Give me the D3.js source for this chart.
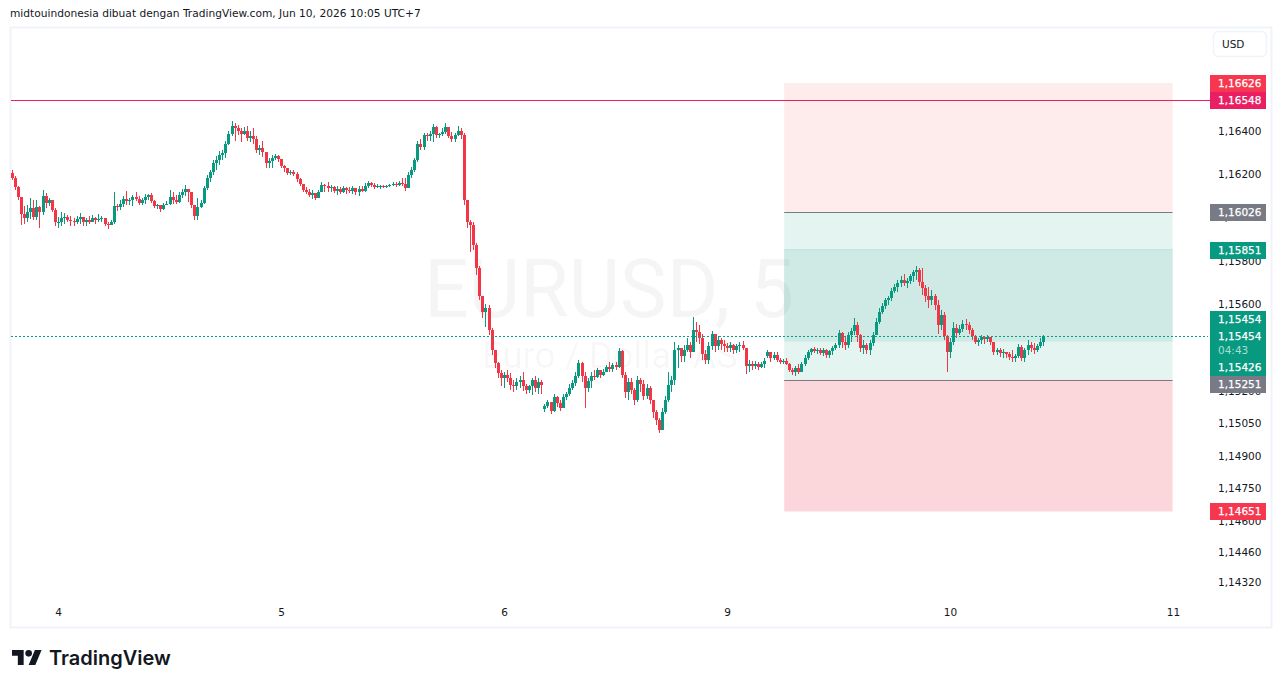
<!DOCTYPE html>
<html>
<head>
<meta charset="utf-8">
<script src="https://cdn.jsdelivr.net/npm/d3@7"></script>
<style>
  html, body { margin: 0; padding: 0; background: #fff; overflow: hidden; }
  text { font-family: "DejaVu Sans", sans-serif; }
</style>
</head>
<body>
<script>
// price values are points above basePrice, one candle every 20 minutes
const basePrice = 1.14;
const barsPerDay = 72;
const firstBarDay = -0.2125;

const opens = [2205,2183,2141,2095,2016,1998,2026,2044,2002,2049,2026,2100,
2067,2081,2035,1979,1979,1998,2002,1989,1984,1979,1993,2002,1979,1989,1979,1998,1989,1993,1998,1970,1966,1979,
2053,2049,2062,2086,2076,2081,2095,2086,2067,2081,2095,2104,2076,2053,2058,2039,2058,2062,2095,2081,2072,2104,2118,2132,2118,2058,2007,2049,2067,2137,2183,2210,2252,2266,2289,2298,2344,2390,2427,2418,2404,2390,2404,2372,2381,2367,2312,2321,2303,2252,2261,2275,2284,2270,2238,2229,2206,2210,2201,2178,2155,2127,2118,2104,2113,2090,2118,2150,2146,2136,2141,2123,2132,2118,2136,2127,2123,2136,2118,2132,2123,2146,2160,2150,2141,2146,2146,2141,2146,2150,2155,2150,2160,2155,2136,2196,2220,2266,2344,2330,2386,2377,2390,2423,2386,2390,2400,2423,2381,2363,2386,2404,2386,
2081,1979,1965,1873,1767,1637,1564,1582,1481,1388,1328,1282,1259,1273,1259,1226,1222,1240,1250,1222,1203,1222,1250,1213,1240,
1115,1129,1148,1106,1171,1143,1120,1171,1185,1212,1236,1268,1328,1268,1212,1245,1268,1263,1296,1273,1286,1309,1300,1319,1309,1383,1273,1194,1240,1203,1157,1249,1231,1176,1212,1157,1102,1065,1019,1102,1157,1226,1250,1388,1397,1360,1388,1411,1379,1480,1471,1443,1369,1342,1406,1462,1406,1434,1416,1406,1397,1411,1388,1406,1411,1397,1314,1323,1314,1323,1309,1323,
1360,1379,1351,1365,1342,1333,1337,1323,1296,1286,1305,1286,1323,1351,1379,1393,1383,1388,1374,1388,1365,1383,1397,1411,1467,1425,1411,1457,1476,1503,1457,1397,1411,1388,1420,1457,1517,1564,1591,1619,1628,1661,1679,1698,1711,1698,1707,1730,1748,1758,1702,1674,1637,1619,1637,1596,1503,1550,1453,1379,1425,1490,1467,1485,1508,1503,1480,1453,1425,1434,1448,1439,1448,1425,1379,1388,1374,1379,1369,1356,1351,1360,1402,1351,1388,1411,1397,1388,1406,1425];

const highs = [2220,2192,2146,2090,2053,2058,2090,2081,2081,2053,2127,
2113,2090,2081,2044,2002,2026,2021,2012,2007,1998,2007,2021,2002,1998,2007,2012,2002,2016,2007,1998,1979,1989,
2118,2062,2081,2100,2123,2090,2104,2118,2100,2090,2109,2109,2113,2081,2062,2058,2067,2076,2127,2118,2104,2118,2132,2150,2127,2118,2058,2090,2081,2146,2196,2220,2266,2284,2307,2312,2358,2404,2451,2441,2432,2414,2423,2427,2404,2418,2381,2335,2354,2303,2275,2289,2294,2289,2266,2243,2229,2220,2220,2210,2183,2155,2141,2132,2127,2113,2127,2164,2155,2164,2150,2146,2146,2141,2146,2141,2141,2146,2136,2146,2146,2160,2169,2164,2160,2155,2150,2150,2150,2155,2164,2164,2169,2183,2183,2210,2234,2275,2358,2367,2395,2395,2404,2437,2427,2395,2414,2441,2418,2400,2395,2427,2414,
2395,2058,1989,1979,1882,1776,1628,1600,1596,1490,1388,1333,1296,1287,1296,1282,1249,1259,1268,1287,1231,1226,1259,1268,1259,1250,
1139,1157,1143,1185,1176,1157,1185,1194,1231,1249,1286,1342,1333,1286,1259,1286,1296,1305,1296,1300,1319,1333,1328,1333,1397,1388,1286,1259,1259,1212,1268,1259,1249,1231,1222,1157,1111,1074,1120,1176,1286,1268,1425,1411,1392,1411,1443,1425,1540,1517,1503,1462,1388,1425,1476,1462,1452,1443,1434,1420,1425,1416,1416,1425,1429,1388,1342,1337,1337,1333,1333,1351,
1388,1379,1379,1379,1351,1347,1351,1328,1305,1314,1323,1333,1365,1388,1397,1402,1397,1397,1397,1393,1388,1406,1420,1480,1471,1452,1471,1490,1536,1517,1462,1434,1420,1434,1471,1536,1582,1605,1628,1637,1674,1693,1711,1730,1739,1721,1739,1758,1776,1767,1767,1688,1679,1665,1646,1619,1573,1563,1457,1443,1517,1508,1503,1526,1531,1517,1490,1457,1443,1457,1452,1457,1448,1425,1397,1397,1393,1379,1379,1388,1369,1416,1411,1397,1434,1425,1420,1416,1443,1458];

const lows = [2173,2127,2081,1966,1970,1979,1993,1989,1989,1952,2012,
2044,2053,2026,1961,1952,1961,1970,1979,1961,1961,1970,1970,1961,1961,1970,1979,1970,1979,1979,1961,1947,1966,
1970,2030,2035,2049,2058,2058,2053,2076,2058,2058,2062,2081,2067,2044,2039,2026,2035,2058,2058,2062,2062,2067,2090,2100,2072,2044,1989,1989,2044,2062,2127,2164,2196,2220,2243,2266,2275,2335,2381,2358,2386,2349,2386,2358,2349,2344,2298,2289,2280,2229,2229,2229,2266,2256,2229,2210,2196,2196,2192,2164,2146,2118,2109,2095,2086,2081,2090,2123,2118,2118,2118,2113,2104,2109,2113,2109,2113,2109,2104,2100,2118,2118,2136,2141,2132,2136,2132,2136,2136,2141,2146,2141,2146,2146,2123,2136,2183,2210,2257,2312,2316,2358,2358,2349,2372,2372,2381,2390,2372,2349,2349,2377,2367,
2058,1952,1841,1850,1734,1619,1536,1494,1457,1365,1305,1259,1222,1213,1240,1203,1194,1203,1213,1199,1185,1189,1180,1194,1185,1185,
1102,1120,1092,1102,1125,1106,1129,1157,1176,1203,1222,1259,1240,1120,1194,1212,1249,1259,1259,1268,1286,1286,1286,1296,1305,1259,1166,1157,1185,1134,1148,1194,1157,1162,1139,1074,1041,1005,1037,1092,1148,1194,1226,1305,1333,1333,1379,1351,1379,1425,1416,1342,1323,1323,1388,1379,1388,1388,1379,1379,1379,1369,1374,1379,1388,1277,1286,1296,1300,1296,1305,1305,
1351,1333,1342,1333,1323,1323,1319,1286,1273,1268,1277,1286,1314,1342,1365,1374,1369,1365,1360,1351,1351,1365,1388,1397,1397,1388,1397,1425,1457,1425,1379,1369,1369,1365,1406,1457,1508,1554,1577,1596,1614,1651,1656,1679,1684,1674,1693,1702,1711,1684,1642,1610,1582,1596,1573,1462,1480,1434,1286,1351,1411,1443,1457,1471,1480,1462,1434,1416,1406,1416,1416,1425,1411,1365,1365,1356,1351,1351,1342,1333,1333,1351,1337,1333,1365,1379,1369,1379,1397,1406];

const closes = [2183,2141,2095,2016,1998,2026,2044,2002,2049,2026,2100,
2067,2081,2035,1979,1979,1998,2002,1989,1984,1979,1993,2002,1979,1989,1979,1998,1989,1993,1998,1970,1966,1979,
2053,2049,2062,2086,2076,2081,2095,2086,2067,2081,2095,2104,2076,2053,2058,2039,2058,2062,2095,2081,2072,2104,2118,2132,2118,2058,2007,2049,2067,2137,2183,2210,2252,2266,2289,2298,2344,2390,2427,2418,2404,2390,2404,2372,2381,2367,2312,2321,2303,2252,2261,2275,2284,2270,2238,2229,2206,2210,2201,2178,2155,2127,2118,2104,2113,2090,2118,2150,2146,2136,2141,2123,2132,2118,2136,2127,2123,2136,2118,2132,2123,2146,2160,2150,2141,2146,2146,2141,2146,2150,2155,2150,2160,2155,2136,2196,2220,2266,2344,2330,2386,2377,2390,2423,2386,2390,2400,2423,2381,2363,2386,2404,2386,
2081,1979,1965,1873,1767,1637,1564,1582,1481,1388,1328,1282,1259,1273,1259,1226,1222,1240,1250,1222,1203,1222,1250,1213,1240,1226,
1129,1148,1106,1171,1143,1120,1171,1185,1212,1236,1268,1328,1268,1212,1245,1268,1263,1296,1273,1286,1309,1300,1319,1309,1383,1273,1194,1240,1203,1157,1249,1231,1176,1212,1157,1102,1065,1019,1102,1157,1226,1250,1388,1397,1360,1388,1411,1379,1480,1471,1443,1369,1342,1406,1462,1406,1434,1416,1406,1397,1411,1388,1406,1411,1397,1314,1323,1314,1323,1309,1323,1337,
1379,1351,1365,1342,1333,1337,1323,1296,1286,1305,1286,1323,1351,1379,1393,1383,1388,1374,1388,1365,1383,1397,1411,1467,1425,1411,1457,1476,1503,1457,1397,1411,1388,1420,1457,1517,1564,1591,1619,1628,1661,1679,1698,1711,1698,1707,1730,1748,1758,1702,1674,1637,1619,1637,1596,1503,1550,1453,1379,1425,1490,1467,1485,1508,1503,1480,1453,1425,1434,1448,1439,1448,1425,1379,1388,1374,1379,1369,1356,1351,1360,1402,1351,1388,1411,1397,1388,1406,1425,1454];

const dayPositions = [0, 1, 2, 3, 4, 5];
const dayLabels = ["4", "5", "6", "9", "10", "11"];
const priceTicks = [1.164, 1.162, 1.16, 1.158, 1.156, 1.152, 1.1505, 1.149, 1.1475, 1.146, 1.1446, 1.1432];

const lastPrice = 1.15454;
const alertPrice = 1.16548;
const stopTop = 1.16626;
const entryTop = 1.16026;
const entryBottom = 1.15251;
const stopBottom = 1.14645;
const innerTop = 1.15851;
const innerBottom = 1.15426;
const zoneStartDay = 3.2565;
const zoneEndDay = 4.998;

const labelTexts = ["1,16626", "1,16548", "1,16026", "1,15851", "1,15454", "1,15454", "04:43", "1,15426", "1,15251", "1,14651"];

const width = 1281, height = 688;
const red = "#f23645", green = "#089981", grey = "#787b86", pink = "#e91e63", ink = "#131722";

const x = d3.scaleLinear().domain([0, 5]).range([58, 1173]);
const y = d3.scaleLog().domain([1.164, 1.1432]).range([131.5, 582.5]);
const price = n => basePrice + n / 1e5;

const svg = d3.select("body").append("svg")
    .attr("width", width)
    .attr("height", height)
    .style("display", "block");

svg.append("text")
    .attr("x", 10).attr("y", 17)
    .attr("font-size", 10.65).attr("fill", ink)
    .text("midtouindonesia dibuat dengan TradingView.com, Jun 10, 2026 10:05 UTC+7");

// chart frame
svg.append("rect")
    .attr("x", 10.5).attr("y", 27.5).attr("width", 1261).attr("height", 600)
    .attr("fill", "#fff").attr("stroke", "#f0f3fa").attr("stroke-width", 2);

// position zones
const zones = [
    { top: stopTop, bottom: entryTop, fill: "#feecec" },
    { top: entryTop, bottom: entryBottom, fill: "#e4f4f1" },
    { top: innerTop, bottom: innerBottom, fill: "#cfeae4" },
    { top: entryBottom, bottom: stopBottom, fill: "#fbd7db" }
];
svg.append("g").selectAll("rect").data(zones).join("rect")
    .attr("x", x(zoneStartDay))
    .attr("width", x(zoneEndDay) - x(zoneStartDay))
    .attr("y", d => y(d.top))
    .attr("height", d => y(d.bottom) - y(d.top))
    .attr("fill", d => d.fill);

svg.append("line")
    .attr("x1", x(zoneStartDay)).attr("x2", x(zoneEndDay))
    .attr("y1", y(innerTop)).attr("y2", y(innerTop))
    .attr("stroke", "#b9e2d9");

svg.append("g").selectAll("line").data([entryTop, entryBottom]).join("line")
    .attr("x1", x(zoneStartDay)).attr("x2", x(zoneEndDay))
    .attr("y1", d => Math.round(y(d)) + 0.5).attr("y2", d => Math.round(y(d)) + 0.5)
    .attr("stroke", grey);

// watermark, shows through the zones
svg.append("text")
    .attr("x", 424).attr("y", 317)
    .attr("font-size", 81).attr("fill", "#000").attr("fill-opacity", 0.04)
    .attr("textLength", 370).attr("lengthAdjust", "spacingAndGlyphs")
    .style("font-family", "Roboto")
    .text("EURUSD, 5");
svg.append("text")
    .attr("x", 482).attr("y", 368)
    .attr("font-size", 37).attr("fill", "#000").attr("fill-opacity", 0.04)
    .attr("textLength", 256).attr("lengthAdjust", "spacingAndGlyphs")
    .style("font-family", "Roboto")
    .text("Euro / Dollar AS");

// candles
const candles = closes.map((c, i) => ({
    day: firstBarDay + i / barsPerDay,
    open: opens[i], high: highs[i], low: lows[i], close: c
}));

const candleGroup = svg.append("g").attr("class", "candles").attr("shape-rendering", "crispEdges");
candleGroup.selectAll("line").data(candles).join("line")
    .attr("x1", d => Math.round(x(d.day)) + 1)
    .attr("x2", d => Math.round(x(d.day)) + 1)
    .attr("y1", d => y(price(d.high)))
    .attr("y2", d => y(price(d.low)))
    .attr("stroke", d => d.close >= d.open ? green : red);
candleGroup.selectAll("rect").data(candles).join("rect")
    .attr("x", d => Math.round(x(d.day)))
    .attr("width", 3)
    .attr("y", d => y(price(Math.max(d.open, d.close))))
    .attr("height", d => Math.max(1, y(price(Math.min(d.open, d.close))) - y(price(Math.max(d.open, d.close)))))
    .attr("fill", d => d.close >= d.open ? green : red);

// horizontal price lines
svg.append("line")
    .attr("x1", 11).attr("x2", 1210)
    .attr("y1", Math.round(y(alertPrice)) + 0.5).attr("y2", Math.round(y(alertPrice)) + 0.5)
    .attr("stroke", pink);
svg.append("line")
    .attr("x1", 11).attr("x2", 1208)
    .attr("y1", Math.round(y(lastPrice)) + 0.5).attr("y2", Math.round(y(lastPrice)) + 0.5)
    .attr("stroke", "#00a08a").attr("stroke-dasharray", "2 2")
    .attr("shape-rendering", "crispEdges");

// axes
const yAxis = svg.append("g")
    .attr("transform", "translate(1218,0)")
    .call(d3.axisRight(y).tickValues(priceTicks).tickSize(0).tickPadding(0)
        .tickFormat(d => d3.format(".5f")(d).replace(".", ",")));
yAxis.select(".domain").remove();
yAxis.selectAll("text").attr("font-size", 10.5).attr("fill", ink).style("font-family", "DejaVu Sans");

const xAxis = svg.append("g")
    .attr("transform", "translate(0,609)")
    .call(d3.axisBottom(x).tickValues(dayPositions).tickSize(0).tickPadding(0)
        .tickFormat((d, i) => dayLabels[i]));
xAxis.select(".domain").remove();
xAxis.selectAll("text").attr("font-size", 10.5).attr("fill", ink).style("font-family", "DejaVu Sans");

// currency button
svg.append("rect")
    .attr("x", 1213.5).attr("y", 31.5).attr("width", 53).attr("height", 25).attr("rx", 5)
    .attr("fill", "#fff").attr("stroke", "#f0f3fa").attr("stroke-width", 1.5);
svg.append("text")
    .attr("x", 1222).attr("y", 48)
    .attr("font-size", 10.5).attr("fill", ink)
    .text("USD");

// label boxes on the price scale, pushed apart the way the chart does it
const labelColors = [ "#f7374f", pink, grey, green, green, green, green, green, grey, "#f7374f" ];
const boxTops = [75, 92, 204, 242, 311, 328, 344, 359, 376, 503];
const boxHeights = [17, 17, 17, 17, 17, 16, 15, 17, 17, 17];
const labelYs = [83.5, 100, 212, 250, 319, 336, 350.5, 367.5, 384, 511];

svg.append("g").selectAll("rect").data(labelTexts).join("rect")
    .attr("x", 1210).attr("width", 56)
    .attr("y", (d, i) => boxTops[i])
    .attr("height", (d, i) => boxHeights[i])
    .attr("fill", (d, i) => labelColors[i]);
svg.append("g").selectAll("text").data(labelTexts).join("text")
    .attr("x", 1218)
    .attr("y", (d, i) => labelYs[i])
    .attr("dy", "0.36em")
    .attr("font-size", 10.5)
    .attr("fill", (d, i) => i === 6 ? "#a8ded2" : "#fff")
    .attr("stroke", (d, i) => i === 6 ? "none" : "#fff")
    .attr("stroke-width", 0.25)
    .text(d => d);

// TradingView logo
const logo = svg.append("g").attr("transform", "translate(12,646.7) scale(0.833)").attr("fill", ink);
logo.append("path").attr("d", "M14 22H7V11H0V4h14v18zM28 22h-8l7.5-18h8L28 22z");
logo.append("circle").attr("cx", 20).attr("cy", 8).attr("r", 4);
svg.append("text")
    .attr("x", 49).attr("y", 665)
    .attr("font-size", 20).attr("font-weight", 600).attr("fill", ink)
    .style("font-family", "Inter")
    .text("TradingView");
</script>
</body>
</html>
